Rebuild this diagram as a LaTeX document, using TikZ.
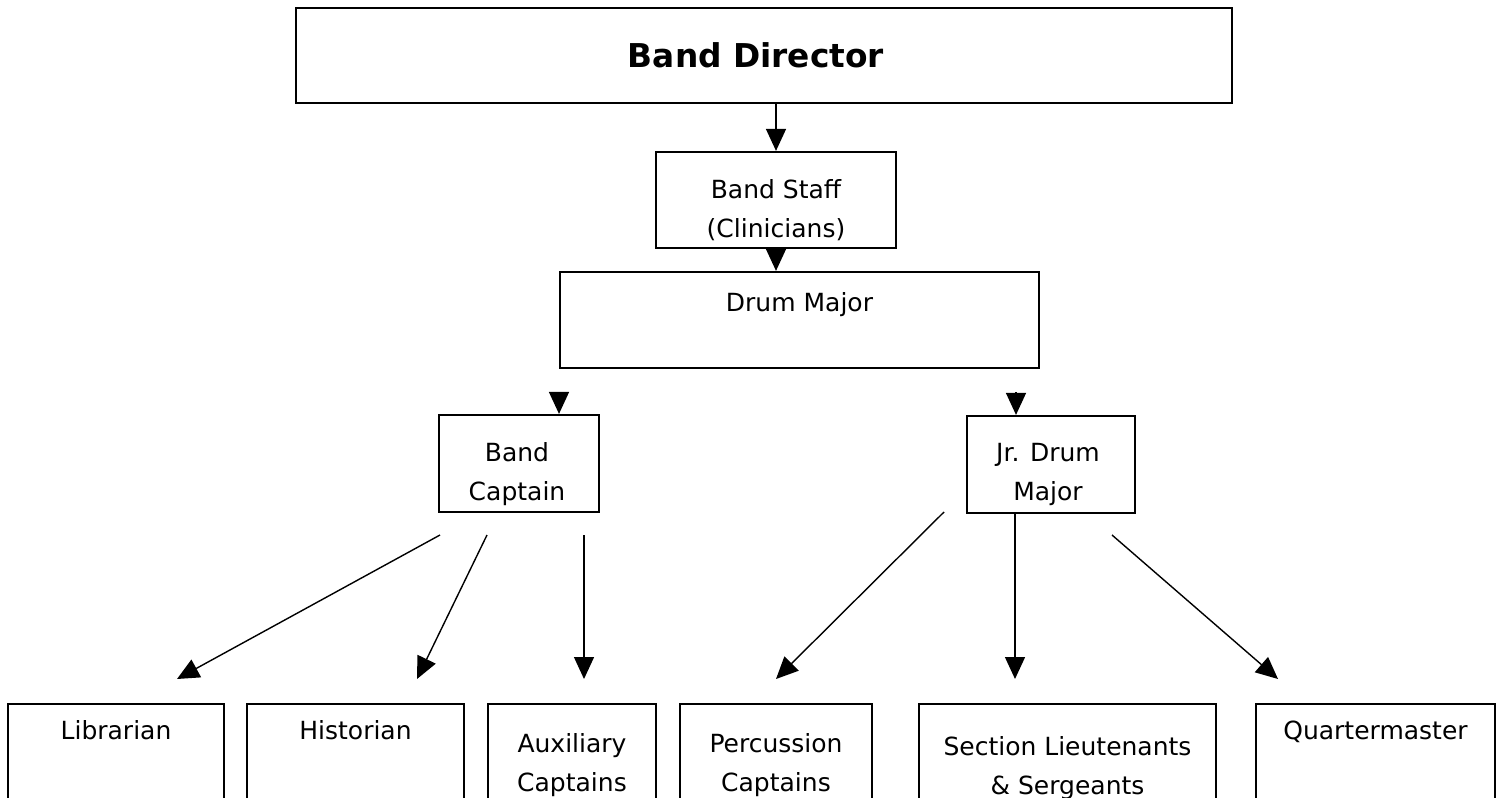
\documentclass[tikz,border=0pt]{standalone}
\usepackage{fontspec}
\setmainfont{DejaVu Sans}
\usetikzlibrary{positioning,arrows.meta}

\begin{document}
\begin{tikzpicture}[x=0.5pt,y=-0.5pt]
  \tikzset{box/.style={draw, line width=1.1pt, inner sep=0pt},
    caption/.style={font=\fontsize{12.5}{19.5}\selectfont, align=center, inner sep=0pt, anchor=base},
    link/.style={line width=0.7pt, -{Triangle[length=11pt,width=10pt]}}
  }
  \useasboundingbox (0,0) rectangle (1503,797);
  \clip (0,0) rectangle (1503,797);

  % top of the chart
  \node[box, minimum width=468pt, minimum height=47.5pt] (dir) at (764,55.5) {};
  \node[caption, anchor=center, font=\bfseries\fontsize{16.4}{20}\selectfont] (dir-t) at (756,55.5) {Band Director};

  \node[box, minimum width=120pt, minimum height=48pt] (staff) at (776,200) {};
  \node[caption] (staff-t) at (776,237) {Band Staff\\(Clinicians)};

  \node[box, minimum width=239.5pt, minimum height=48pt] (dm) at (799.5,320) {};
  \node[caption] (dm-t) at (799.5,311) {Drum Major};

  % second level
  \node[box, minimum width=80pt, minimum height=48.5pt] (bc) at (519,463.5) {};
  \node[caption] (bc-t) at (517,500) {Band\\Captain};

  \node[box, minimum width=84pt, minimum height=48.5pt] (jdm) at (1051,464.5) {};
  \node[caption] (jdm-t) at (1048,500) {Jr. Drum\\Major};

  % bottom row (runs off the page)
  \node[box, minimum width=108pt, minimum height=70pt] (lib) at (116,774) {};
  \node[caption] (lib-t) at (116,739) {Librarian};

  \node[box, minimum width=108.5pt, minimum height=70pt] (his) at (355.5,774) {};
  \node[caption] (his-t) at (355.5,739) {Historian};

  \node[box, minimum width=84pt, minimum height=70pt] (aux) at (572,774) {};
  \node[caption] (aux-t) at (572,791) {Auxiliary\\Captains};

  \node[box, minimum width=96pt, minimum height=70pt] (perc) at (776,774) {};
  \node[caption] (perc-t) at (776,791) {Percussion\\Captains};

  \node[box, minimum width=148.5pt, minimum height=70pt] (sec) at (1067.5,774) {};
  \node[caption] (sec-t) at (1067.5,794) {Section Lieutenants\\\& Sergeants};

  \node[box, minimum width=119.5pt, minimum height=70pt] (qm) at (1375.5,774) {};
  \node[caption] (qm-t) at (1375.5,739) {Quartermaster};

  % loose arrow ends
  \coordinate (bc-in) at (559,392);
  \coordinate (jdm-in) at (1016,392);
  \coordinate (lib-from) at (440,535);
  \coordinate (lib-to) at (177,679);
  \coordinate (his-from) at (487,535);
  \coordinate (his-to) at (417,679);
  \coordinate (aux-from) at (584,535);
  \coordinate (aux-to) at (584,679);
  \coordinate (perc-from) at (944,512);
  \coordinate (perc-to) at (776,679);
  \coordinate (sec-from) at (1015,512);
  \coordinate (sec-to) at (1015,679);
  \coordinate (qm-from) at (1112,535);
  \coordinate (qm-to) at (1278,679);

  \draw[link] (staff.north |- dir.south) -- (staff.north);
  \draw[link] (staff.south) -- (staff.south |- dm.north);
  \draw[link] (bc-in) -- (bc-in |- bc.north);
  \draw[link] (jdm-in) -- (jdm-in |- jdm.north);

  \draw[link] (lib-from) -- (lib-to);
  \draw[link] (his-from) -- (his-to);
  \draw[link] (aux-from) -- (aux-to);
  \draw[link] (perc-from) -- (perc-to);
  \draw[link] (sec-from) -- (sec-to);
  \draw[link] (qm-from) -- (qm-to);
\end{tikzpicture}
\end{document}
